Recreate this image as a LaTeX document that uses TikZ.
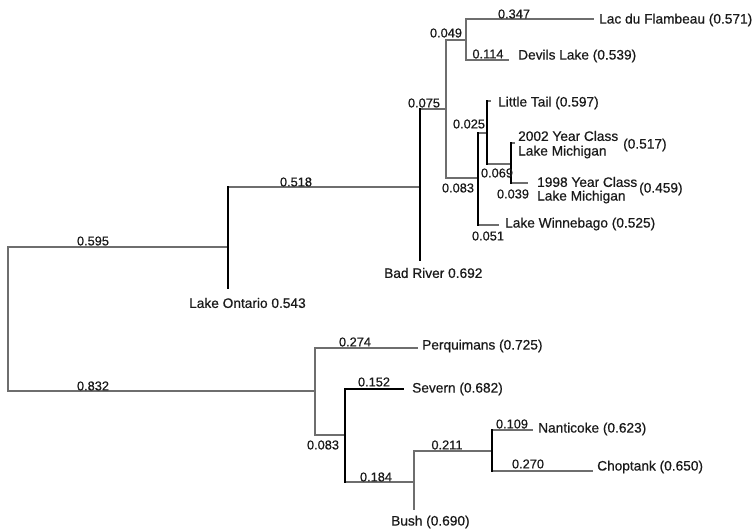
\documentclass[tikz,border=0pt]{standalone}
\usepackage{fontspec}
\setmainfont{Liberation Sans}[BoldFont=Liberation Sans, BoldFeatures={FakeBold=0.6}]
\definecolor{thin}{HTML}{6E6E6E}
\definecolor{txt}{HTML}{1A1A1A}
\tikzset{
  tline/.style={draw=thin, line width=1.2pt, line cap=rect},
  kline/.style={draw=black, line width=2pt, line cap=rect},
  mline/.style={draw=black, line width=1.5pt, line cap=rect},
  taxon/.style={anchor=west, inner sep=0pt, text=txt, font=\fontsize{13.7}{15}\selectfont\bfseries},
  blen/.style={anchor=center, inner sep=0pt, text=txt, font=\fontsize{12.8}{14}\selectfont\bfseries},
}
\begin{document}
\begin{tikzpicture}[x=1pt,y=-1pt]
\useasboundingbox (0,0) rectangle (753,529);
% junction coordinates
\coordinate (r1) at (8,247);
\coordinate (r2) at (8,391);
\coordinate (lo) at (228,247);
\coordinate (lotop) at (228,187);
\coordinate (lobot) at (228,288);
\coordinate (brj) at (420,187);
\coordinate (brtop) at (420,109);
\coordinate (brbot) at (420,260);
\coordinate (a75) at (446,109);
\coordinate (a49) at (446,40);
\coordinate (a83) at (446,178);
\coordinate (b49) at (466,40);
\coordinate (lacj) at (466,19);
\coordinate (lace) at (593,19);
\coordinate (devj) at (466,60);
\coordinate (deve) at (508,60);
\coordinate (b83) at (478,178);
\coordinate (w25) at (478,133);
\coordinate (wbot) at (478,225);
\coordinate (wend) at (498,225);
\coordinate (l25) at (487,133);
\coordinate (lttop) at (487,101);
\coordinate (ltend) at (490,101);
\coordinate (l69) at (487,164);
\coordinate (m69) at (511,164);
\coordinate (mtop) at (511,143);
\coordinate (mtopend) at (514,143);
\coordinate (mbot) at (511,183);
\coordinate (mbotend) at (527,183);
% southern clade
\coordinate (s0) at (315,391);
\coordinate (stop) at (315,348);
\coordinate (sbot) at (315,435);
\coordinate (pend) at (417,348);
\coordinate (t83) at (345,435);
\coordinate (ttop) at (345,389);
\coordinate (tbot) at (345,482);
\coordinate (send) at (403,389);
\coordinate (bj) at (414,482);
\coordinate (btop) at (414,451);
\coordinate (bbot) at (414,509);
\coordinate (nj) at (492,451);
\coordinate (ntop) at (492,430);
\coordinate (nbot) at (492,471);
\coordinate (nend) at (532,430);
\coordinate (cend) at (592,471);

% thin branches
\draw[tline] (r1) -- (r2);
\draw[tline] (r1) -- (lo);
\draw[tline] (r2) -- (s0);
\draw[tline] (lotop) -- (brj);
\draw[tline] (brtop) -- (a75);
\draw[tline] (a49) -- (a83);
\draw[tline] (a49) -- (b49);
\draw[tline] (lacj) -- (devj);
\draw[tline] (lacj) -- (lace);
\draw[tline] (devj) -- (deve);
\draw[tline] (a83) -- (b83);
\draw[tline] (w25) -- (l25);
\draw[tline] (lttop) -- (ltend);
\draw[tline] (l69) -- (m69);
\draw[tline] (mtop) -- (mtopend);
\draw[tline] (mbot) -- (mbotend);
\draw[tline] (wbot) -- (wend);
\draw[tline] (stop) -- (sbot);
\draw[tline] (stop) -- (pend);
\draw[tline] (sbot) -- (t83);
\draw[mline] (ttop) -- (send);
\draw[tline] (tbot) -- (bj);
\draw[tline] (btop) -- (bbot);
\draw[tline] (btop) -- (nj);
\draw[tline] (ntop) -- (nend);
\draw[tline] (nbot) -- (cend);
% thick branches
\draw[kline] (lotop) -- (lobot);
\draw[kline] (brtop) -- (brbot);
\draw[kline] (w25) -- (wbot);
\draw[kline] (lttop) -- (l69);
\draw[mline] (mtop) -- (mbot);
\draw[kline] (ttop) -- (tbot);
\draw[kline] (ntop) -- (nbot);

% taxon labels
\node[taxon] (lac) at (599,20) {Lac du Flambeau (0.571)};
\node[taxon] (dev) at (518,56) {Devils Lake (0.539)};
\node[taxon] (lit) at (498,103) {Little Tail (0.597)};
\node[taxon] (y02a) at (518,136) {2002 Year Class};
\node[taxon] (y02b) at (518,152) {Lake Michigan};
\node[taxon] (y02c) at (623,145) {(0.517)};
\node[taxon] (y98a) at (537,182) {1998 Year Class};
\node[taxon] (y98b) at (537,197) {Lake Michigan};
\node[taxon] (y98c) at (639,189) {(0.459)};
\node[taxon] (win) at (505,224) {Lake Winnebago (0.525)};
\node[taxon] (bad) at (384,273) {Bad River 0.692};
\node[taxon] (ont) at (189,303) {Lake Ontario 0.543};
\node[taxon] (per) at (422,346) {Perquimans (0.725)};
\node[taxon] (sev) at (412,389) {Severn (0.682)};
\node[taxon] (nan) at (538,429) {Nanticoke (0.623)};
\node[taxon] (cho) at (597,467) {Choptank (0.650)};
\node[taxon] (bus) at (391,522) {Bush (0.690)};

% branch length labels
\node[blen] (v347) at (514,14) {0.347};
\node[blen] (v114) at (488,54) {0.114};
\node[blen] (v049) at (446,33) {0.049};
\node[blen] (v075) at (424,103) {0.075};
\node[blen] (v025) at (469,124) {0.025};
\node[blen] (v083a) at (458,188) {0.083};
\node[blen] (v069) at (497,173) {0.069};
\node[blen] (v039) at (513,194) {0.039};
\node[blen] (v051) at (488,236) {0.051};
\node[blen] (v518) at (296,182) {0.518};
\node[blen] (v595) at (93,241) {0.595};
\node[blen] (v832) at (93,386) {0.832};
\node[blen] (v274) at (355,342) {0.274};
\node[blen] (v152) at (374,382) {0.152};
\node[blen] (v083b) at (323,445) {0.083};
\node[blen] (v184) at (376,477) {0.184};
\node[blen] (v211) at (447,445) {0.211};
\node[blen] (v109) at (512,424) {0.109};
\node[blen] (v270) at (528,464) {0.270};
\end{tikzpicture}
\end{document}
